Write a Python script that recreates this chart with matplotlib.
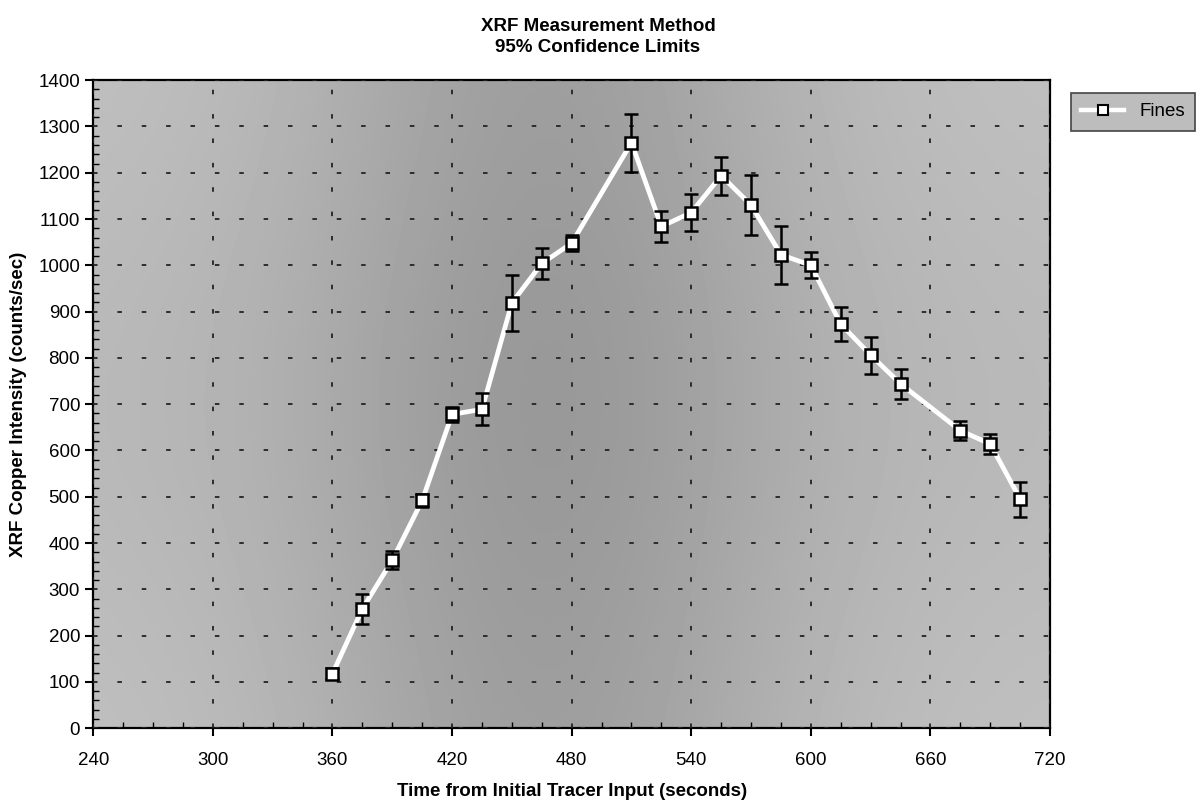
import numpy as np
import matplotlib.pyplot as plt
from matplotlib.ticker import MultipleLocator

plt.rcParams['font.family'] = ['Liberation Sans', 'DejaVu Sans']

# data
time_s = [360, 375, 390, 405, 420, 435, 450, 465, 480, 510, 525, 540,
          555, 570, 585, 600, 615, 630, 645, 675, 690, 705]
intensity = [118, 258, 363, 492, 678, 689, 919, 1004, 1048, 1265, 1084, 1114,
             1194, 1130, 1023, 1000, 873, 806, 744, 643, 614, 495]
conf95 = [12, 32, 19, 13, 17, 35, 61, 34, 17, 63, 34, 40,
          41, 65, 63, 28, 36, 40, 32, 20, 21, 38]

fig = plt.figure(figsize=(11.96, 8.02), dpi=100)
ax = fig.add_axes([0.078, 0.092, 0.8, 0.808])

# gray shaded backdrop, darker towards the middle columns
gx = np.linspace(-1, 1, 200)
gy = np.linspace(-1, 1, 140)
GX, GY = np.meshgrid(gx, gy)
shade = 0.76 - 0.13 * np.exp(-((GX + 0.05) ** 2) / 0.30) - 0.03 * np.exp(-(GY ** 2) / 0.8)
ax.imshow(shade, cmap='gray', vmin=0, vmax=1, extent=[240, 720, 0, 1400],
          aspect='auto', zorder=0, interpolation='bilinear')

ax.set_xlim(240, 720)
ax.set_ylim(0, 1400)
ax.xaxis.set_major_locator(MultipleLocator(60))
ax.xaxis.set_minor_locator(MultipleLocator(15))
ax.yaxis.set_major_locator(MultipleLocator(100))
ax.yaxis.set_minor_locator(MultipleLocator(20))
ax.tick_params(which='major', direction='out', length=6, width=1.5, labelsize=13.5)
ax.tick_params(which='minor', direction='in', length=4, width=1)
ax.tick_params(axis='x', pad=11)

ax.grid(True, which='major', color='#222222', linestyle=(0, (2.5, 11)), linewidth=1.3)
ax.set_axisbelow(False)
for sp in ax.spines.values():
    sp.set_linewidth(1.6)

ax.plot(time_s, intensity, color='white', lw=3.4, zorder=3)
ax.errorbar(time_s, intensity, yerr=conf95, fmt='none', ecolor='black',
            elinewidth=1.8, capsize=5, capthick=1.8, zorder=4)
ax.plot(time_s, intensity, linestyle='none', marker='s', markersize=8,
        markerfacecolor='white', markeredgecolor='black', markeredgewidth=1.8,
        zorder=5)

# legend entry
h, = ax.plot([], [], color='white', lw=3.2, marker='s', markersize=7,
             markerfacecolor='white', markeredgecolor='black', markeredgewidth=1.5)
leg = ax.legend([h], ['Fines'], loc='upper left', bbox_to_anchor=(1.012, 0.995),
                frameon=True, fancybox=False, fontsize=13.5, handlelength=2.3,
                borderpad=0.55)
leg.get_frame().set_facecolor('#bdbdbd')
leg.get_frame().set_edgecolor('#444444')
leg.get_frame().set_linewidth(1.2)
leg.get_frame().set_alpha(1)

ax.set_xlabel('Time from Initial Tracer Input (seconds)', fontsize=13.5,
              fontweight='bold', labelpad=10)
ax.set_ylabel('XRF Copper Intensity (counts/sec)', fontsize=13.5,
              fontweight='bold', labelpad=8)
fig.text(0.5, 0.978, 'XRF Measurement Method\n95% Confidence Limits',
         ha='center', va='top', fontsize=13.5, fontweight='bold', linespacing=1.35)

fig.savefig('out.png', dpi=100)
